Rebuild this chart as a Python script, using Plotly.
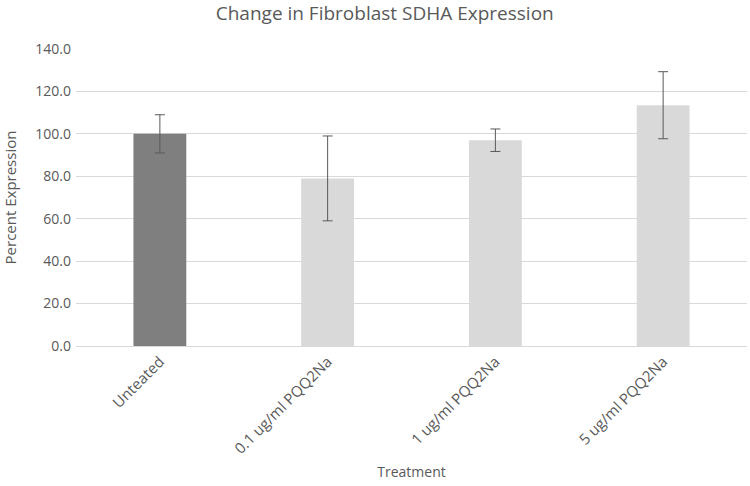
import plotly.graph_objects as go

treatments = ['Unteated', '0.1 ug/ml PQQ2Na', '1 ug/ml PQQ2Na', '5 ug/ml PQQ2Na']
expression = [100.0, 79.0, 97.0, 113.5]
error = [9.0, 20.0, 5.3, 15.8]
bar_colors = ['#7f7f7f', '#d9d9d9', '#d9d9d9', '#d9d9d9']

font_family = 'Open Sans'
text_color = '#595959'

fig = go.Figure(
    data=go.Bar(
        x=treatments,
        y=expression,
        marker=dict(color=bar_colors, line=dict(width=0)),
        error_y=dict(type='data', array=error, visible=True,
                     color='#595959', thickness=1, width=5),
        width=0.315,
    ),
    layout=go.Layout(
        width=750,
        height=486,
        margin=dict(l=76, r=3, t=49, b=140),
        plot_bgcolor='white',
        paper_bgcolor='white',
        font=dict(family=font_family, color=text_color, size=13),
        title={
            'text': 'Change in Fibroblast SDHA Expression',
            'x': 0.513,
            'y': 0.987,
            'yref': 'container',
            'xanchor': 'center',
            'yanchor': 'top',
            'font': dict(size=19, color=text_color),
        },
        xaxis=dict(
            title=dict(text='Treatment', font=dict(size=14), standoff=10),
            tickangle=-45,
            tickfont=dict(size=15),
            showline=True,
            linecolor='#d9d9d9',
            linewidth=1,
            showgrid=False,
            ticks='',
            automargin=False,
        ),
        yaxis=dict(
            title=dict(text='Percent Expression', font=dict(size=15), standoff=16),
            range=[0, 140],
            dtick=20,
            tickformat='.1f',
            tickfont=dict(size=14),
            ticklabelstandoff=4,
            showgrid=True,
            gridcolor='#d9d9d9',
            gridwidth=1,
            zeroline=False,
            ticks='',
            automargin=False,
        ),
        showlegend=False,
    )
)

# the page's default body margin would push the chart 8px right and down
fig.write_html("out.html", config={'displayModeBar': False},
               post_script="document.body.style.margin = '0';")
